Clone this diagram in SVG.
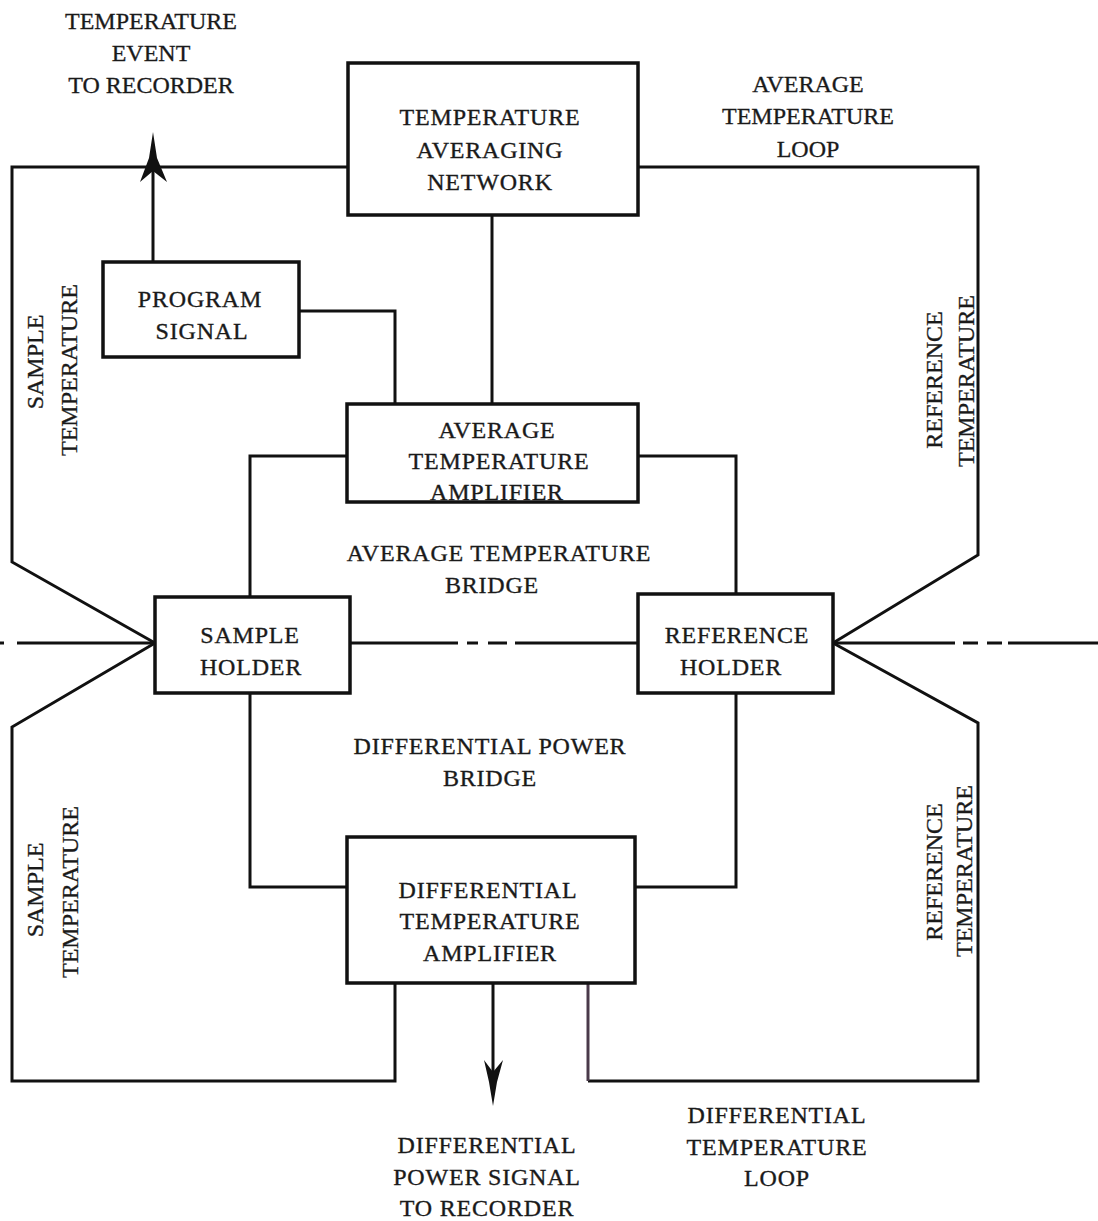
<svg xmlns="http://www.w3.org/2000/svg" width="1098" height="1221" viewBox="0 0 1098 1221">
<style>
.box{fill:none;stroke:#111;stroke-width:3.5}
.ln{fill:none;stroke:#111;stroke-width:3;stroke-linejoin:miter}
.tw{font-family:"Liberation Serif",serif;font-size:24px;letter-spacing:0.8px;fill:#1a1a1a;stroke:#1a1a1a;stroke-width:0.35;text-anchor:middle}
.sf{font-family:"Liberation Serif",serif;font-size:24px;fill:#1a1a1a;stroke:#1a1a1a;stroke-width:0.3;text-anchor:middle}
</style>
<rect width="1098" height="1221" fill="#fff"/>
<g id="connectors">
  <path class="ln" d="M348 167 H12 V562 L155 643"/>
  <path class="ln" d="M638 167 H978 V555 L833 643"/>
  <path class="ln" d="M492 215 V404"/>
  <path class="ln" d="M299 311 H395 V404"/>
  <path class="ln" d="M153 262 V150"/>
  <path d="M153 132 L157 158 L167 182 L153 171 L140 182 L149 158 Z" fill="#111"/>
  <path class="ln" d="M347 456 H250 V597"/>
  <path class="ln" d="M638 456 H736 V594"/>
  <path class="ln" d="M250 693 V887 H347"/>
  <path class="ln" d="M736 693 V887 H635"/>
  <path class="ln" d="M155 643 L12 727 V1081 H395 V983"/>
  <path class="ln" d="M833 643 L978 723 V1081 H588"/>
  <path fill="none" stroke="#4a3a4a" stroke-width="3" d="M588 1081 V983"/>
  <path class="ln" d="M493 983 V1080"/>
  <path d="M493 1106 L497 1082 L503 1060 L493 1072 L484 1060 L489 1082 Z" fill="#111"/>
  <path class="ln" d="M350 643 H458 M467 643 H478 M488 643 H507 M515 643 H638"/>
  <path class="ln" d="M0 643 H4 M17 643 H155"/>
  <path class="ln" d="M833 643 H955 M963 643 H978 M987 643 H1002 M1008 643 H1098"/>
</g>
<g id="temp-avg-network">
  <rect class="box" x="348" y="63" width="290" height="152"/>
  <text class="tw" x="490" y="125">TEMPERATURE</text>
  <text class="tw" x="490" y="158">AVERAGING</text>
  <text class="tw" x="490" y="190">NETWORK</text>
</g>
<g id="program-signal">
  <rect class="box" x="103" y="262" width="196" height="95"/>
  <text class="tw" x="200" y="307">PROGRAM</text>
  <text class="tw" x="202" y="339">SIGNAL</text>
</g>
<g id="avg-temp-amp">
  <rect class="box" x="347" y="404" width="291" height="98"/>
  <text class="tw" x="497" y="438">AVERAGE</text>
  <text class="tw" x="499" y="469">TEMPERATURE</text>
  <text class="tw" x="497" y="500">AMPLIFIER</text>
</g>
<g id="sample-holder">
  <rect class="box" x="155" y="597" width="195" height="96"/>
  <text class="tw" x="250" y="643">SAMPLE</text>
  <text class="tw" x="251" y="675">HOLDER</text>
</g>
<g id="reference-holder">
  <rect class="box" x="638" y="594" width="195" height="99"/>
  <text class="tw" x="737" y="643">REFERENCE</text>
  <text class="tw" x="731" y="675">HOLDER</text>
</g>
<g id="diff-temp-amp">
  <rect class="box" x="347" y="837" width="288" height="146"/>
  <text class="tw" x="488" y="898">DIFFERENTIAL</text>
  <text class="tw" x="490" y="929">TEMPERATURE</text>
  <text class="tw" x="490" y="961">AMPLIFIER</text>
</g>
<g id="labels">
  <text class="sf" x="151" y="29">TEMPERATURE</text>
  <text class="sf" x="151" y="61">EVENT</text>
  <text class="sf" x="151" y="93">TO RECORDER</text>
  <text class="sf" x="808" y="92">AVERAGE</text>
  <text class="sf" x="808" y="124">TEMPERATURE</text>
  <text class="sf" x="808" y="157">LOOP</text>
  <text class="tw" x="499" y="561">AVERAGE TEMPERATURE</text>
  <text class="tw" x="492" y="593">BRIDGE</text>
  <text class="tw" x="490" y="754">DIFFERENTIAL POWER</text>
  <text class="tw" x="490" y="786">BRIDGE</text>
  <text class="tw" x="487" y="1153">DIFFERENTIAL</text>
  <text class="tw" x="487" y="1185">POWER SIGNAL</text>
  <text class="tw" x="487" y="1216">TO RECORDER</text>
  <text class="tw" x="777" y="1123">DIFFERENTIAL</text>
  <text class="tw" x="777" y="1155">TEMPERATURE</text>
  <text class="tw" x="777" y="1186">LOOP</text>
  <text class="sf" transform="translate(43 362) rotate(-90)">SAMPLE</text>
  <text class="sf" transform="translate(77 370) rotate(-90)">TEMPERATURE</text>
  <text class="sf" transform="translate(43 890) rotate(-90)">SAMPLE</text>
  <text class="sf" transform="translate(78 892) rotate(-90)">TEMPERATURE</text>
  <text class="sf" transform="translate(942 380) rotate(-90)">REFERENCE</text>
  <text class="sf" transform="translate(974 381) rotate(-90)">TEMPERATURE</text>
  <text class="sf" transform="translate(942 872) rotate(-90)">REFERENCE</text>
  <text class="sf" transform="translate(972 871) rotate(-90)">TEMPERATURE</text>
</g>
</svg>
